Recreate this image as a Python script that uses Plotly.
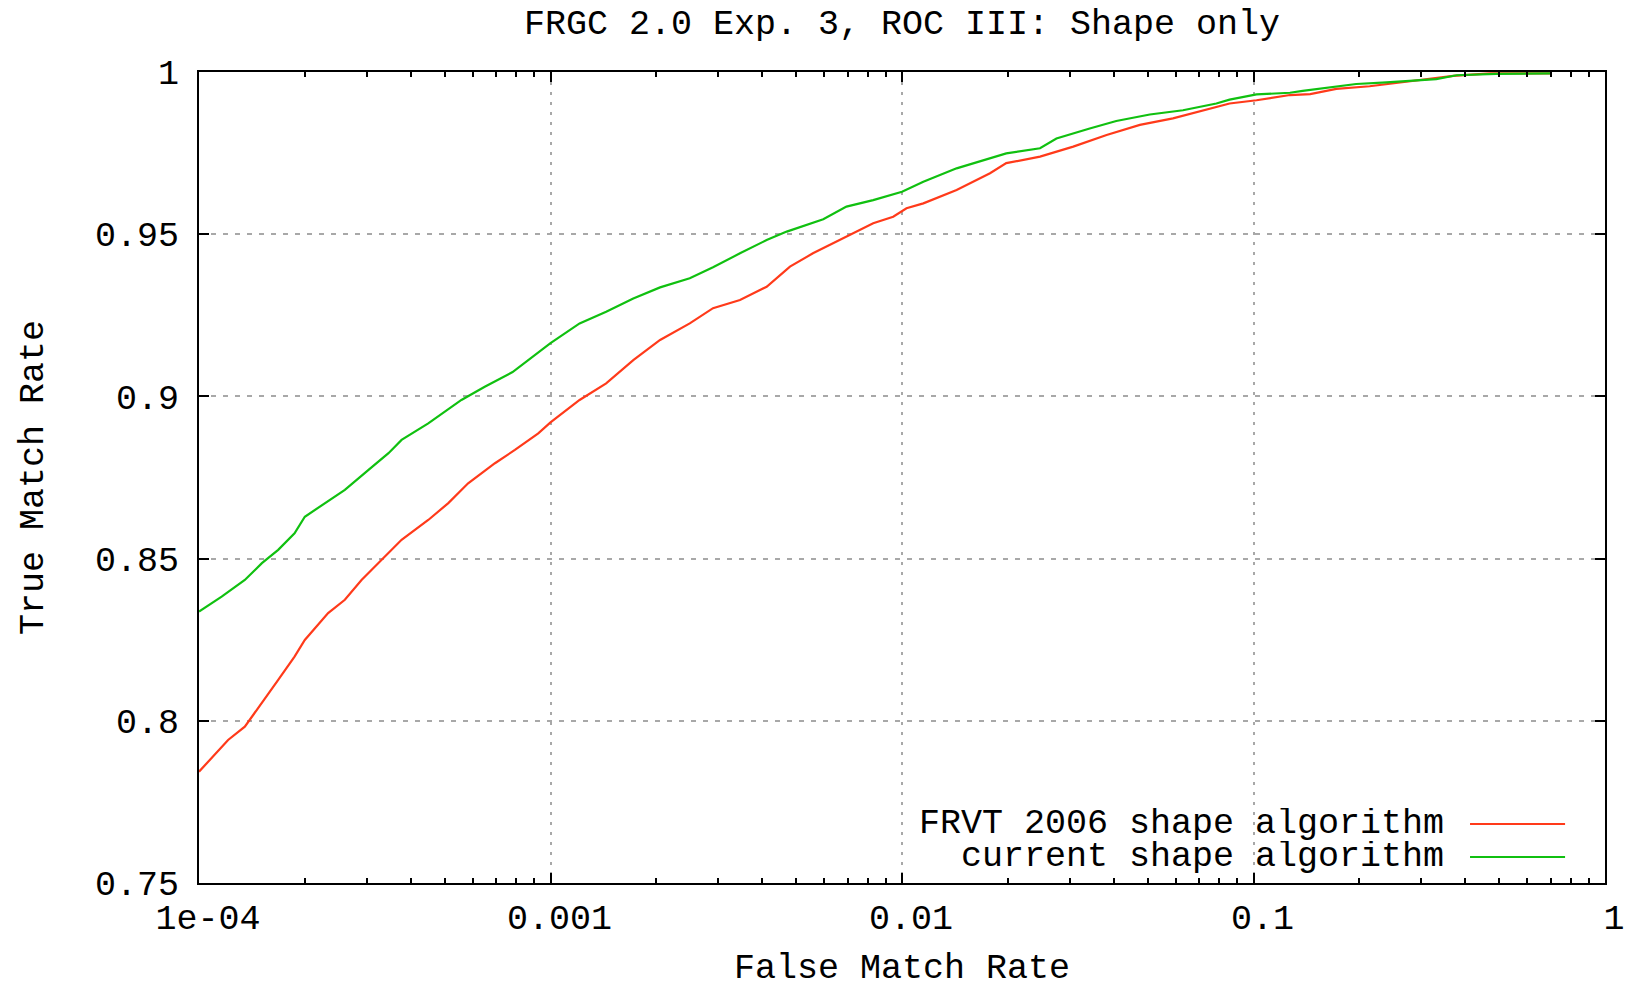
import plotly.graph_objects as go

# ---- data ----
fmr_frvt = [1.0e-4, 1.21e-4, 1.35e-4, 1.51e-4, 1.68e-4, 1.87e-4, 2.0e-4, 2.33e-4, 2.6e-4, 2.9e-4,
            3.31e-4, 3.77e-4, 4.49e-4, 5.12e-4, 5.83e-4, 6.95e-4, 7.92e-4, 9.23e-4, 1.0e-3, 1.21e-3,
            1.44e-3, 1.72e-3, 2.05e-3, 2.49e-3, 2.9e-3, 3.46e-3, 4.12e-3, 4.8e-3, 5.58e-3, 6.65e-3,
            8.28e-3, 9.44e-3, 1.03e-2, 1.15e-2, 1.43e-2, 1.78e-2, 1.98e-2, 2.47e-2, 3.07e-2, 3.82e-2,
            4.75e-2, 5.9e-2, 7.35e-2, 8.55e-2, 0.102, 0.127, 0.145, 0.172, 0.214, 0.297,
            0.37, 0.471, 0.70]
tmr_frvt = [0.7843, 0.7941, 0.7982, 0.8054, 0.8126, 0.8198, 0.8249, 0.8332, 0.8373, 0.8434,
            0.8496, 0.8558, 0.8619, 0.8671, 0.8732, 0.8794, 0.8835, 0.8886, 0.8920, 0.8989,
            0.9040, 0.9112, 0.9174, 0.9225, 0.9272, 0.9297, 0.9338, 0.9400, 0.9441, 0.9482,
            0.9534, 0.9554, 0.9580, 0.9595, 0.9636, 0.9688, 0.9719, 0.9739, 0.9770, 0.9806,
            0.9837, 0.9857, 0.9885, 0.9903, 0.9913, 0.9929, 0.9932, 0.9948, 0.9956, 0.9976,
            0.9988, 0.9996, 0.9996]

fmr_current = [1.0e-4, 1.16e-4, 1.35e-4, 1.51e-4, 1.68e-4, 1.87e-4, 2.0e-4, 2.33e-4, 2.6e-4, 3.03e-4,
               3.46e-4, 3.77e-4, 4.49e-4, 5.58e-4, 6.5e-4, 7.8e-4, 8.6e-4, 9.33e-4, 1.0e-3, 1.21e-3,
               1.44e-3, 1.72e-3, 2.05e-3, 2.49e-3, 2.9e-3, 3.46e-3, 4.12e-3, 4.7e-3, 5.97e-3, 6.95e-3,
               8.28e-3, 1.0e-2, 1.15e-2, 1.43e-2, 1.78e-2, 1.98e-2, 2.47e-2, 2.75e-2, 3.42e-2, 4.07e-2,
               5.07e-2, 6.3e-2, 7.84e-2, 8.55e-2, 0.102, 0.127, 0.138, 0.165, 0.196, 0.239,
               0.331, 0.378, 0.49, 0.70]
tmr_current = [0.8337, 0.8383, 0.8434, 0.8486, 0.8527, 0.8578, 0.8629, 0.8676, 0.8712, 0.8773,
               0.8825, 0.8866, 0.8917, 0.8989, 0.9030, 0.9075, 0.9110, 0.9138, 0.9164, 0.9225,
               0.9261, 0.9302, 0.9336, 0.9364, 0.9398, 0.9441, 0.9482, 0.9508, 0.9546, 0.9585,
               0.9605, 0.9631, 0.9662, 0.9703, 0.9734, 0.9749, 0.9765, 0.9795, 0.9826, 0.9849,
               0.9869, 0.9882, 0.9903, 0.9915, 0.9931, 0.9936, 0.9942, 0.9952, 0.9963, 0.9968,
               0.9978, 0.9990, 0.9994, 0.9996]

series_names = ["FRVT 2006 shape algorithm", "current shape algorithm"]
series_colors = ["#ff3a1a", "#10c010"]

x_tickvals = [1e-4, 1e-3, 1e-2, 1e-1, 1]
x_ticktext = ["1e-04", "0.001", "0.01", "0.1", "1"]
x_minor = [m * 10 ** e for e in range(-4, 0) for m in range(2, 10)]
y_tickvals = [0.75, 0.8, 0.85, 0.9, 0.95, 1.0]
y_ticktext = ["0.75", "0.8", "0.85", "0.9", "0.95", "1"]

FONT = "Liberation Mono"
FS = 35

fig = go.Figure()
fig.add_trace(go.Scatter(x=fmr_frvt, y=tmr_frvt, mode="lines", name=series_names[0],
                         line=dict(color=series_colors[0], width=2.2)))
fig.add_trace(go.Scatter(x=fmr_current, y=tmr_current, mode="lines", name=series_names[1],
                         line=dict(color=series_colors[1], width=2.2)))

# manual gnuplot-style legend (text on the left, sample on the right)
leg_y = [0.0727, 0.032]
for name, color, yy in zip(series_names, series_colors, leg_y):
    fig.add_annotation(x=0.887, y=yy, xref="paper", yref="paper", text=name, showarrow=False,
                       xanchor="right", yanchor="middle", height=32, valign="middle",
                       font=dict(family=FONT, size=FS, color="black"))
    fig.add_shape(type="line", xref="paper", yref="paper", x0=0.904, x1=0.9716, y0=yy, y1=yy,
                  line=dict(color=color, width=2))

fig.update_layout(
    width=1633, height=987,
    margin=dict(l=191, r=36, t=64, b=112, autoexpand=False),
    paper_bgcolor="white", plot_bgcolor="white",
    showlegend=False,
    font=dict(family=FONT, size=FS, color="black"),
    title=dict(text="FRGC 2.0 Exp. 3, ROC III: Shape only", x=0.5, xref="paper",
               y=1 - 14 / 987, yref="container", yanchor="middle", xanchor="center",
               font=dict(family=FONT, size=FS, color="black")),
)
fig.update_xaxes(
    type="log", range=[-4, 0], automargin=False,
    tickvals=x_tickvals, ticktext=x_ticktext,
    ticks="inside", ticklen=10, tickwidth=2, tickcolor="black",
    showline=True, linecolor="black", linewidth=2, mirror="ticks",
    showgrid=True, gridcolor="#a8a8a8", gridwidth=2, griddash="3px,7px",
    minor=dict(tickvals=x_minor, ticks="inside", ticklen=5, tickwidth=2, tickcolor="black", showgrid=False),
    zeroline=False, ticklabelstandoff=2, ticklabelshift=9,
    title=dict(text="False Match Rate", standoff=14, font=dict(family=FONT, size=FS)),
)
fig.update_yaxes(
    range=[0.75, 1.0], automargin=False,
    tickvals=y_tickvals, ticktext=y_ticktext,
    ticks="inside", ticklen=10, tickwidth=2, tickcolor="black",
    showline=True, linecolor="black", linewidth=2, mirror="ticks",
    showgrid=True, gridcolor="#a8a8a8", gridwidth=2, griddash="5px,7px",
    zeroline=False, ticklabelstandoff=11,
    title=dict(text="True Match Rate", standoff=41, font=dict(family=FONT, size=FS)),
)

fig.write_html("out.html")
